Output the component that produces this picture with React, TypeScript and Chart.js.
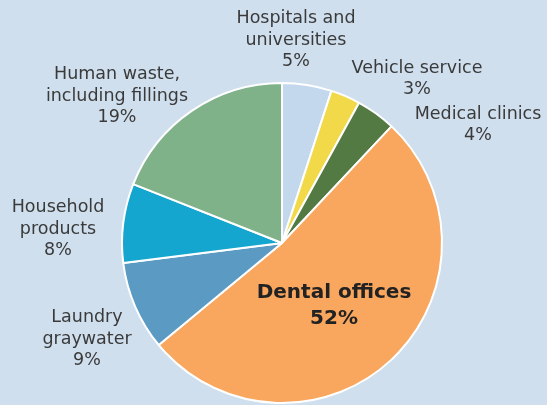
import React, { useEffect, useRef } from "react";
import { Chart, registerables } from "chart.js";

Chart.register(...registerables);

const categories = [
  "Hospitals and universities",
  "Vehicle service",
  "Medical clinics",
  "Dental offices",
  "Laundry graywater",
  "Household products",
  "Human waste, including fillings",
];
const values = [5, 3, 4, 52, 9, 8, 19];
const labelLines = [
  ["Hospitals and", "universities"],
  ["Vehicle service"],
  ["Medical clinics"],
  ["Dental offices"],
  ["Laundry", "graywater"],
  ["Household", "products"],
  ["Human waste,", "including fillings"],
];
const colors = ["#c3d8ec", "#f1d94a", "#537a42", "#f9a65e", "#5a9ac3", "#15a6cf", "#80b28a"];

// label block offsets relative to pie centre (layout only)
const labelOffsets: [number, number][] = [
  [14, -203],
  [135, -164],
  [196, -118],
  [52, 63],
  [-195, 96],
  [-224, -14],
  [-165, -147],
];

const labelPlugin = {
  id: "outerLabels",
  afterDatasetsDraw(chart: any) {
    const ctx = chart.ctx;
    const meta = chart.getDatasetMeta(0);
    const arc0 = meta.data[0];
    const cx = arc0.x;
    const cy = arc0.y;
    ctx.save();
    ctx.textAlign = "center";
    ctx.textBaseline = "middle";
    values.forEach((v, i) => {
      const lines = [...labelLines[i], v + "%"];
      const bold = i === 3;
      const lh = bold ? 26 : 21.5;
      ctx.font = bold ? "bold 20px 'DejaVu Sans'" : "17.5px 'DejaVu Sans'";
      ctx.fillStyle = bold ? "#222222" : "#3a3a3a";
      const [dx, dy] = labelOffsets[i];
      const top = cy + dy - ((lines.length - 1) * lh) / 2;
      lines.forEach((t, j) => ctx.fillText(t, cx + dx, top + j * lh));
    });
    ctx.restore();
  },
};

export default function App() {
  const ref = useRef<HTMLCanvasElement>(null);
  useEffect(() => {
    document.body.style.margin = "0";
    const chart = new Chart(ref.current!, {
      type: "pie",
      data: {
        labels: categories,
        datasets: [
          {
            data: values,
            backgroundColor: colors,
            borderColor: "#ffffff",
            borderWidth: 2,
          },
        ],
      },
      options: {
        animation: false,
        responsive: false,
        layout: { padding: { left: 121, right: 104, top: 82, bottom: 1 } },
        plugins: { legend: { display: false }, tooltip: { enabled: false } },
      },
      plugins: [labelPlugin],
    });
    return () => chart.destroy();
  }, []);
  return (
    <div style={{ width: 547, height: 405, background: "#cfdfee" }}>
      <canvas ref={ref} width={547} height={405} />
    </div>
  );
}
